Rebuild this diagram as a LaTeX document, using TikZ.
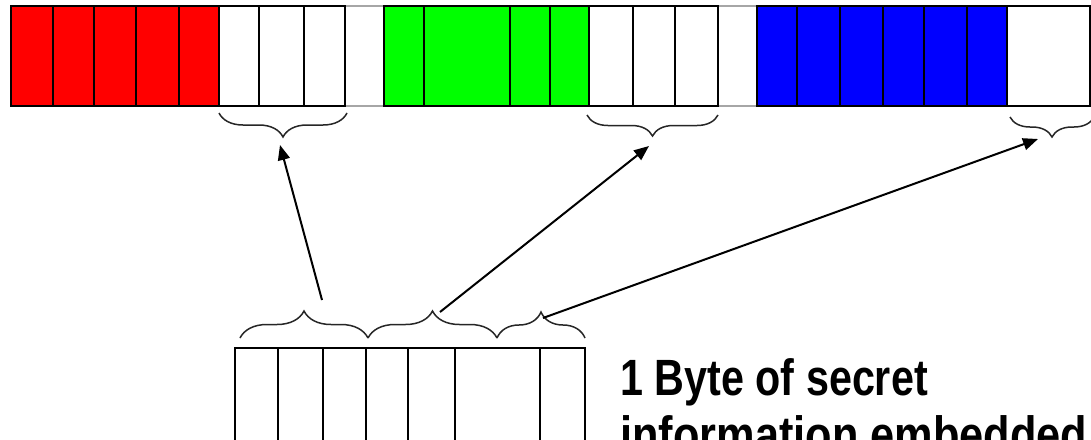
\documentclass[tikz,border=0pt]{standalone}
\usepackage{fontspec}
\setmainfont{Liberation Sans}
\usetikzlibrary{decorations.pathreplacing,arrows.meta}
\begin{document}
\begin{tikzpicture}[x=1pt,y=-1pt,
  cell/.style={draw=black, line width=1.7pt, inner sep=0pt, outer sep=0pt, anchor=north west},
  gapline/.style={draw=black!35, line width=1.4pt},
  brc/.style={decorate, decoration={brace, amplitude=#1}, line width=1.5pt, draw=black!85},
  mbrc/.style={decorate, decoration={brace, amplitude=#1, mirror}, line width=1.5pt, draw=black!85},
  link/.style={draw=black, line width=2pt, -{Triangle[length=15pt,width=12pt]}},
  txt/.style={font=\bfseries\fontsize{51}{57}\selectfont, inner sep=0pt, anchor=base west, xscale=#1, transform shape}
]
\useasboundingbox (0,0) rectangle (1091,439);
\clip (0,0) rectangle (1091,439);
\fill[white] (0,0) rectangle (1091,439);

% gaps in the top row
\draw[gapline] (345,6) -- (384,6) (345,106) -- (384,106);
\draw[gapline] (718,6) -- (757,6) (718,106) -- (757,106);

% top row of pixel bits
\foreach \a/\b/\c [count=\n] in {11/53/red,53/94/red,94/136/red,136/179/red,179/219/red,
  219/259/white,259/304/white,304/345/white,
  384/424/green,424/510/green,510/550/green,550/589/green,
  589/633/white,633/675/white,675/718/white,
  757/797/blue,797/840/blue,840/883/blue,883/924/blue,924/967/blue,967/1007/blue,
  1007/1090/white}{
  \pgfmathsetmacro\w{\b-\a}
  \node[cell, fill=\c, minimum width=\w pt, minimum height=100pt] (t\n) at (\a,6) {};
}

% bottom byte
\foreach \a/\b [count=\n] in {235/278,278/323,323/366,366/408,408/455,455/540,540/585}{
  \pgfmathsetmacro\w{\b-\a}
  \node[cell, fill=white, minimum width=\w pt, minimum height=130pt] (b\n) at (\a,348) {};
}

% braces under the top row
\draw[mbrc=24pt] (219,113) -- (347,113);
\draw[mbrc=21pt] (587,115) -- (718,115);
\draw[mbrc=20pt] (1010,117) -- (1094,117);

% braces over the bottom byte
\draw[brc=27pt] (240,338) -- (368,338);
\draw[brc=27pt] (368,338) -- (497,338);
\draw[brc=26pt] (497,338) -- (585,338);

% arrow ends
\coordinate (s1) at (322,300);
\coordinate (e1) at (280,145);
\coordinate (s2) at (440,312);
\coordinate (e2) at (649,146);
\coordinate (s3) at (543,318);
\coordinate (e3) at (1038,139);
\draw[link] (s1) -- (e1);
\draw[link] (s2) -- (e2);
\draw[link] (s3) -- (e3);

% caption
\node[txt=0.81] (l1) at (620,395) {1 Byte of secret};
\node[txt=0.85] (l2) at (620,452) {information embedded};
\end{tikzpicture}
\end{document}
